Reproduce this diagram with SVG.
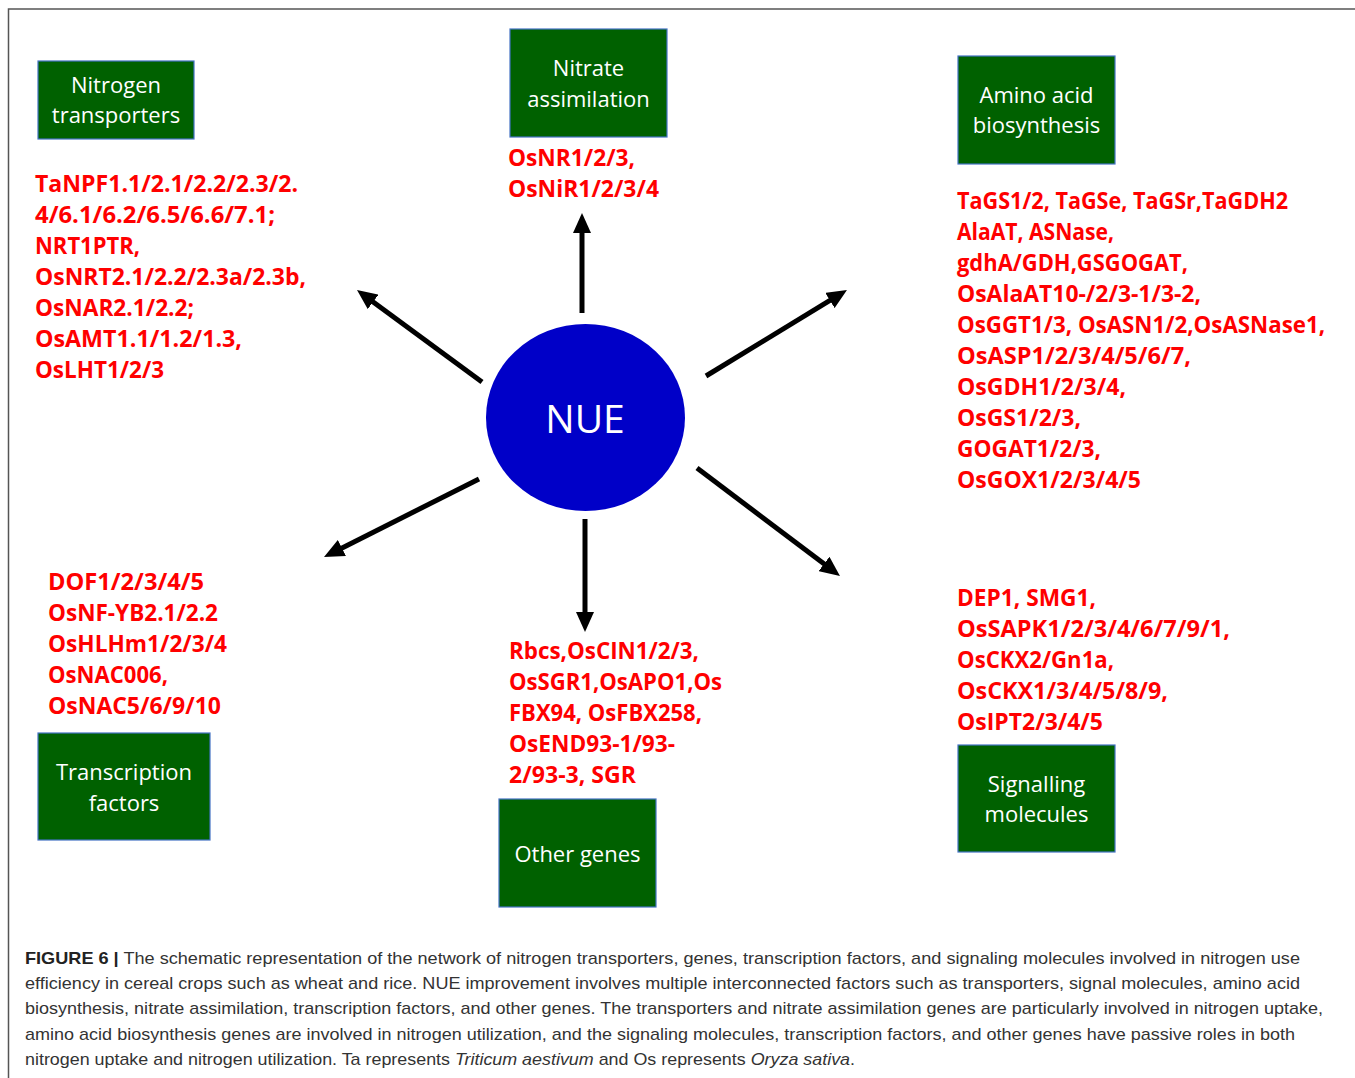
<svg xmlns="http://www.w3.org/2000/svg" width="1355" height="1078" viewBox="0 0 1355 1078">
<style>
.box{fill:#006100;stroke:#4472C4;stroke-width:1.2}
.lbl{font-family:"Open Sans","Noto Sans",sans-serif;font-size:22px;fill:#fff;text-anchor:middle}
.gene{font-family:"Open Sans","Noto Sans",sans-serif;font-size:23px;font-weight:bold;fill:#FF0000}
.cap{font-family:"Liberation Sans",Arial,sans-serif;font-size:17px;fill:#333}
.arr{stroke:#000;stroke-width:5;fill:none;marker-end:url(#ah)}
</style>
<defs>
<marker id="ah" markerUnits="userSpaceOnUse" viewBox="0 0 20 18" markerWidth="20" markerHeight="18" refX="2" refY="9" orient="auto">
<path d="M0,0 L20,9 L0,18 z" fill="#000"/>
</marker>
</defs>
<rect width="1355" height="1078" fill="#fff"/>
<path d="M8.5,1078 V9 H1355" fill="none" stroke="#555" stroke-width="1.5"/>

<g id="connectors">
<line class="arr" x1="582" y1="313" x2="582" y2="231"/>
<line class="arr" x1="482" y1="382" x2="371.5" y2="300.7"/>
<line class="arr" x1="706" y1="376" x2="831.6" y2="299.4"/>
<line class="arr" x1="479" y1="479" x2="340.1" y2="548.9"/>
<line class="arr" x1="585" y1="519" x2="585" y2="614"/>
<line class="arr" x1="697" y1="468" x2="825.6" y2="565.1"/>
</g>

<g id="nue">
<ellipse cx="585.5" cy="417.5" rx="99.5" ry="93.5" fill="#0000C8"/>
<text x="585" y="433" font-family="Open Sans,Noto Sans,sans-serif" font-size="39" fill="#fff" text-anchor="middle">NUE</text>
</g>

<g id="nitrogen-transporters">
<rect class="box" x="38" y="61" width="156" height="78"/>
<text class="lbl" x="116" y="93">Nitrogen</text>
<text class="lbl" x="116" y="123">transporters</text>
<text class="gene" x="35" y="192" textLength="263" lengthAdjust="spacingAndGlyphs">TaNPF1.1/2.1/2.2/2.3/2.</text>
<text class="gene" x="35" y="223" textLength="240" lengthAdjust="spacingAndGlyphs">4/6.1/6.2/6.5/6.6/7.1;</text>
<text class="gene" x="35" y="254" textLength="105" lengthAdjust="spacingAndGlyphs">NRT1PTR,</text>
<text class="gene" x="35" y="285" textLength="271" lengthAdjust="spacingAndGlyphs">OsNRT2.1/2.2/2.3a/2.3b,</text>
<text class="gene" x="35" y="316" textLength="159" lengthAdjust="spacingAndGlyphs">OsNAR2.1/2.2;</text>
<text class="gene" x="35" y="347" textLength="207" lengthAdjust="spacingAndGlyphs">OsAMT1.1/1.2/1.3,</text>
<text class="gene" x="35" y="378" textLength="129" lengthAdjust="spacingAndGlyphs">OsLHT1/2/3</text>
</g>

<g id="nitrate-assimilation">
<rect class="box" x="510" y="29" width="157" height="108"/>
<text class="lbl" x="588.5" y="76">Nitrate</text>
<text class="lbl" x="588.5" y="107">assimilation</text>
<text class="gene" x="508" y="166" textLength="127" lengthAdjust="spacingAndGlyphs">OsNR1/2/3,</text>
<text class="gene" x="508" y="197" textLength="151" lengthAdjust="spacingAndGlyphs">OsNiR1/2/3/4</text>
</g>

<g id="amino-acid-biosynthesis">
<rect class="box" x="958" y="56" width="157" height="108"/>
<text class="lbl" x="1036.5" y="103">Amino acid</text>
<text class="lbl" x="1036.5" y="133">biosynthesis</text>
<text class="gene" x="957" y="209" textLength="331" lengthAdjust="spacingAndGlyphs">TaGS1/2, TaGSe, TaGSr,TaGDH2</text>
<text class="gene" x="957" y="240" textLength="157" lengthAdjust="spacingAndGlyphs">AlaAT, ASNase,</text>
<text class="gene" x="957" y="271" textLength="231" lengthAdjust="spacingAndGlyphs">gdhA/GDH,GSGOGAT,</text>
<text class="gene" x="957" y="302" textLength="244" lengthAdjust="spacingAndGlyphs">OsAlaAT10-/2/3-1/3-2,</text>
<text class="gene" x="957" y="333" textLength="368" lengthAdjust="spacingAndGlyphs">OsGGT1/3, OsASN1/2,OsASNase1,</text>
<text class="gene" x="957" y="364" textLength="234" lengthAdjust="spacingAndGlyphs">OsASP1/2/3/4/5/6/7,</text>
<text class="gene" x="957" y="395" textLength="169" lengthAdjust="spacingAndGlyphs">OsGDH1/2/3/4,</text>
<text class="gene" x="957" y="426" textLength="124" lengthAdjust="spacingAndGlyphs">OsGS1/2/3,</text>
<text class="gene" x="957" y="457" textLength="144" lengthAdjust="spacingAndGlyphs">GOGAT1/2/3,</text>
<text class="gene" x="957" y="488" textLength="184" lengthAdjust="spacingAndGlyphs">OsGOX1/2/3/4/5</text>
</g>

<g id="transcription-factors">
<text class="gene" x="48" y="590" textLength="156" lengthAdjust="spacingAndGlyphs">DOF1/2/3/4/5</text>
<text class="gene" x="48" y="621" textLength="170" lengthAdjust="spacingAndGlyphs">OsNF-YB2.1/2.2</text>
<text class="gene" x="48" y="652" textLength="179" lengthAdjust="spacingAndGlyphs">OsHLHm1/2/3/4</text>
<text class="gene" x="48" y="683" textLength="120" lengthAdjust="spacingAndGlyphs">OsNAC006,</text>
<text class="gene" x="48" y="714" textLength="173" lengthAdjust="spacingAndGlyphs">OsNAC5/6/9/10</text>
<rect class="box" x="38" y="733" width="172" height="107"/>
<text class="lbl" x="124" y="780">Transcription</text>
<text class="lbl" x="124" y="811">factors</text>
</g>

<g id="other-genes">
<text class="gene" x="509" y="659" textLength="190" lengthAdjust="spacingAndGlyphs">Rbcs,OsCIN1/2/3,</text>
<text class="gene" x="509" y="690" textLength="213" lengthAdjust="spacingAndGlyphs">OsSGR1,OsAPO1,Os</text>
<text class="gene" x="509" y="721" textLength="193" lengthAdjust="spacingAndGlyphs">FBX94, OsFBX258,</text>
<text class="gene" x="509" y="752" textLength="166" lengthAdjust="spacingAndGlyphs">OsEND93-1/93-</text>
<text class="gene" x="509" y="783" textLength="127" lengthAdjust="spacingAndGlyphs">2/93-3, SGR</text>
<rect class="box" x="499" y="799" width="157" height="108"/>
<text class="lbl" x="577.5" y="862">Other genes</text>
</g>

<g id="signalling-molecules">
<text class="gene" x="957" y="606" textLength="139" lengthAdjust="spacingAndGlyphs">DEP1, SMG1,</text>
<text class="gene" x="957" y="637" textLength="273" lengthAdjust="spacingAndGlyphs">OsSAPK1/2/3/4/6/7/9/1,</text>
<text class="gene" x="957" y="668" textLength="157" lengthAdjust="spacingAndGlyphs">OsCKX2/Gn1a,</text>
<text class="gene" x="957" y="699" textLength="211" lengthAdjust="spacingAndGlyphs">OsCKX1/3/4/5/8/9,</text>
<text class="gene" x="957" y="730" textLength="146" lengthAdjust="spacingAndGlyphs">OsIPT2/3/4/5</text>
<rect class="box" x="958" y="745" width="157" height="107"/>
<text class="lbl" x="1036.5" y="792">Signalling</text>
<text class="lbl" x="1036.5" y="822">molecules</text>
</g>

<g id="caption">
<text class="cap" x="25" y="964" textLength="1275" lengthAdjust="spacingAndGlyphs"><tspan font-weight="bold" fill="#222">FIGURE 6 |</tspan> The schematic representation of the network of nitrogen transporters, genes, transcription factors, and signaling molecules involved in nitrogen use</text>
<text class="cap" x="25" y="989" textLength="1275" lengthAdjust="spacingAndGlyphs">efficiency in cereal crops such as wheat and rice. NUE improvement involves multiple interconnected factors such as transporters, signal molecules, amino acid</text>
<text class="cap" x="25" y="1014" textLength="1298" lengthAdjust="spacingAndGlyphs">biosynthesis, nitrate assimilation, transcription factors, and other genes. The transporters and nitrate assimilation genes are particularly involved in nitrogen uptake,</text>
<text class="cap" x="25" y="1040" textLength="1270" lengthAdjust="spacingAndGlyphs">amino acid biosynthesis genes are involved in nitrogen utilization, and the signaling molecules, transcription factors, and other genes have passive roles in both</text>
<text class="cap" x="25" y="1065" textLength="830" lengthAdjust="spacingAndGlyphs">nitrogen uptake and nitrogen utilization. Ta represents <tspan font-style="italic">Triticum aestivum</tspan> and Os represents <tspan font-style="italic">Oryza sativa</tspan>.</text>
</g>
</svg>
